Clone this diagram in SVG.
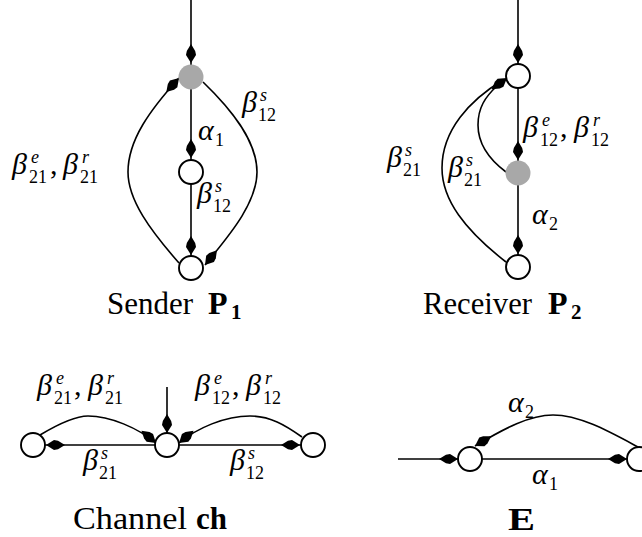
<svg xmlns="http://www.w3.org/2000/svg" xmlns:xlink="http://www.w3.org/1999/xlink" width="642" height="537" viewBox="0 0 642 537">
<style>
.ln{fill:none;stroke:#000;stroke-width:1.6}
.nd{fill:#fff;stroke:#000;stroke-width:1.9}
.gd{fill:#a8a8a8;stroke:none}
.ah{fill:#000;stroke:none}
text{font-family:"Liberation Serif","DejaVu Serif",serif;fill:#000}
.i{font-style:italic;font-size:30px}
.si{font-style:italic;font-size:18px}
.sd{font-size:18px}
.r{font-size:30px}
.big{font-size:31px}
.b{font-size:32px;font-weight:bold}
.bs{font-size:21px;font-weight:bold}
</style>
<defs>
<path id="ah" class="ah" d="M0,0 L-8,-5 L-12,-4.2 L-19,0 L-12,4.2 L-8,5 Z"/>
</defs>

<g id="connectors">
<!-- Sender -->
<path class="ln" d="M191,0 V260"/>
<path class="ln" d="M179,263 C150,230 128,200 128,172 C128,140 150,110 179,78"/>
<path class="ln" d="M203,82 C230,108 257,140 257,172 C257,205 225,240 205,265"/>
<use xlink:href="#ah" transform="translate(191,63) rotate(90)"/>
<use xlink:href="#ah" transform="translate(191,158) rotate(90)"/>
<use xlink:href="#ah" transform="translate(191,255) rotate(90)"/>
<use xlink:href="#ah" transform="translate(179,78) rotate(-48)"/>
<use xlink:href="#ah" transform="translate(205,265) rotate(129)"/>
<!-- Receiver -->
<path class="ln" d="M518,0 V260"/>
<path class="ln" d="M506,262 C465,230 442,200 442,168 C442,130 470,100 503,80"/>
<path class="ln" d="M506,172 C490,160 478,145 478,125 C478,108 485,97 497,86"/>
<use xlink:href="#ah" transform="translate(518,63) rotate(90)"/>
<use xlink:href="#ah" transform="translate(518,160) rotate(90)"/>
<use xlink:href="#ah" transform="translate(518,254) rotate(90)"/>
<use xlink:href="#ah" transform="translate(507,78) rotate(-36)"/>
<!-- Channel -->
<path class="ln" d="M45,445 H301"/>
<path class="ln" d="M167,387 V433"/>
<path class="ln" d="M40,435 C60,423 75,416 88,416 C110,416 138,428 156,443"/>
<path class="ln" d="M179,443 C197,428 225,416 250,416 C270,416 285,425 302,437"/>
<use xlink:href="#ah" transform="translate(46,445) rotate(180)"/>
<use xlink:href="#ah" transform="translate(300,445)"/>
<use xlink:href="#ah" transform="translate(167,433) rotate(90)"/>
<use xlink:href="#ah" transform="translate(156,443) rotate(40)"/>
<use xlink:href="#ah" transform="translate(179,443) rotate(140)"/>
<!-- E -->
<path class="ln" d="M398,459 H458"/>
<path class="ln" d="M482,459 H627"/>
<path class="ln" d="M638,447 C610,432 580,415 553,415 C530,415 505,428 475,446"/>
<use xlink:href="#ah" transform="translate(458,459)"/>
<use xlink:href="#ah" transform="translate(627,459)"/>
<use xlink:href="#ah" transform="translate(475,446) rotate(149)"/>
</g>

<g id="sender-top"><circle class="gd" cx="191" cy="77" r="12.5"/></g>
<g id="sender-mid"><circle class="nd" cx="191" cy="172" r="12"/></g>
<g id="sender-bot"><circle class="nd" cx="191" cy="268" r="12"/></g>

<g id="receiver-top"><circle class="nd" cx="518" cy="76" r="12"/></g>
<g id="receiver-mid"><circle class="gd" cx="518" cy="173" r="12.5"/></g>
<g id="receiver-bot"><circle class="nd" cx="518" cy="267" r="12"/></g>

<g id="channel-left"><circle class="nd" cx="33" cy="445" r="12"/></g>
<g id="channel-center"><circle class="nd" cx="167" cy="445" r="12"/></g>
<g id="channel-right"><circle class="nd" cx="313" cy="445" r="12"/></g>

<g id="e-left"><circle class="nd" cx="470" cy="459" r="12"/></g>
<g id="e-right"><circle class="nd" cx="639" cy="459" r="12"/></g>

<g id="labels">
<!-- Sender -->
<text><tspan class="i" x="242" y="112">β</tspan><tspan class="si" x="260" y="101">s</tspan><tspan class="sd" x="258" y="121">12</tspan></text>
<text><tspan class="i" x="198" y="140">α</tspan><tspan class="sd" x="215" y="146">1</tspan></text>
<text><tspan class="i" x="12" y="174">β</tspan><tspan class="si" x="31" y="163">e</tspan><tspan class="sd" x="29" y="183">21</tspan><tspan class="r" x="50" y="174">,</tspan><tspan class="i" x="63" y="174">β</tspan><tspan class="si" x="82" y="163">r</tspan><tspan class="sd" x="80" y="183">21</tspan></text>
<text><tspan class="i" x="197" y="203">β</tspan><tspan class="si" x="215" y="192">s</tspan><tspan class="sd" x="213" y="212">12</tspan></text>
<text y="314"><tspan class="big" x="107" textLength="86" lengthAdjust="spacingAndGlyphs">Sender</tspan><tspan class="b" x="208">P</tspan><tspan class="bs" x="231" dy="5">1</tspan></text>
<!-- Receiver -->
<text><tspan class="i" x="523" y="137">β</tspan><tspan class="si" x="542" y="126">e</tspan><tspan class="sd" x="540" y="146">12</tspan><tspan class="r" x="560" y="137">,</tspan><tspan class="i" x="574" y="137">β</tspan><tspan class="si" x="593" y="126">r</tspan><tspan class="sd" x="591" y="146">12</tspan></text>
<text><tspan class="i" x="387" y="167">β</tspan><tspan class="si" x="405" y="156">s</tspan><tspan class="sd" x="403" y="176">21</tspan></text>
<text><tspan class="i" x="448" y="177">β</tspan><tspan class="si" x="466" y="166">s</tspan><tspan class="sd" x="464" y="186">21</tspan></text>
<text><tspan class="i" x="532" y="224">α</tspan><tspan class="sd" x="549" y="230">2</tspan></text>
<text y="314"><tspan class="big" x="423" textLength="109" lengthAdjust="spacingAndGlyphs">Receiver</tspan><tspan class="b" x="548">P</tspan><tspan class="bs" x="571" dy="5">2</tspan></text>
<!-- Channel -->
<text><tspan class="i" x="37" y="395">β</tspan><tspan class="si" x="56" y="384">e</tspan><tspan class="sd" x="54" y="404">21</tspan><tspan class="r" x="74" y="395">,</tspan><tspan class="i" x="88" y="395">β</tspan><tspan class="si" x="107" y="384">r</tspan><tspan class="sd" x="105" y="404">21</tspan></text>
<text><tspan class="i" x="195" y="395">β</tspan><tspan class="si" x="214" y="384">e</tspan><tspan class="sd" x="212" y="404">12</tspan><tspan class="r" x="232" y="395">,</tspan><tspan class="i" x="246" y="395">β</tspan><tspan class="si" x="265" y="384">r</tspan><tspan class="sd" x="263" y="404">12</tspan></text>
<text><tspan class="i" x="83" y="470">β</tspan><tspan class="si" x="101" y="459">s</tspan><tspan class="sd" x="99" y="479">21</tspan></text>
<text><tspan class="i" x="230" y="470">β</tspan><tspan class="si" x="248" y="459">s</tspan><tspan class="sd" x="246" y="479">12</tspan></text>
<text y="529"><tspan class="big" x="73" textLength="114" lengthAdjust="spacingAndGlyphs">Channel</tspan><tspan class="b" x="196" textLength="31" lengthAdjust="spacingAndGlyphs">ch</tspan></text>
<!-- E -->
<text><tspan class="i" x="508" y="412">α</tspan><tspan class="sd" x="525" y="418">2</tspan></text>
<text><tspan class="i" x="532" y="484">α</tspan><tspan class="sd" x="549" y="490">1</tspan></text>
<text class="b" x="508" y="530" textLength="27" lengthAdjust="spacingAndGlyphs">E</text>
</g>
</svg>
